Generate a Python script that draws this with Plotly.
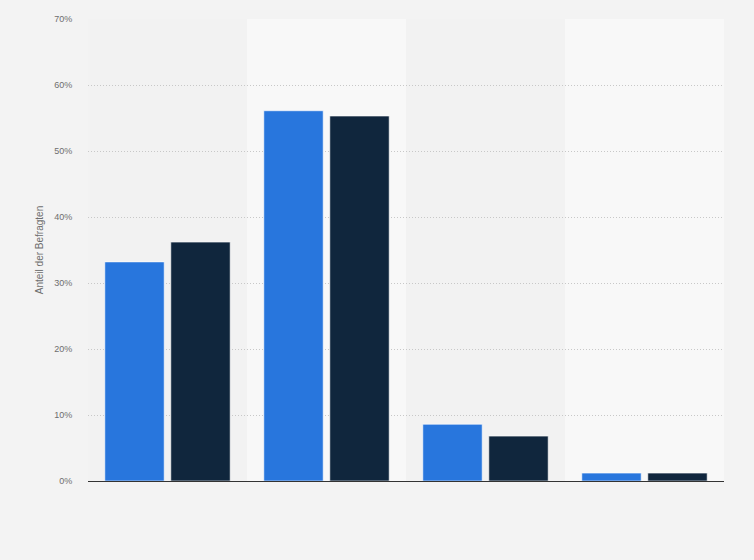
import plotly.graph_objects as go

categories = ["A", "B", "C", "D"]
series1 = [33.2, 56.1, 8.6, 1.2]
series2 = [36.2, 55.3, 6.8, 1.2]
y_ticks = [0, 10, 20, 30, 40, 50, 60, 70]
y_tick_labels = ["0%", "10%", "20%", "30%", "40%", "50%", "60%", "70%"]

fig = go.Figure()
fig.add_trace(go.Bar(x=categories, y=series1, name="Series 1",
                     marker=dict(color="#2876dd", line=dict(color="#ffffff", width=0.6))))
fig.add_trace(go.Bar(x=categories, y=series2, name="Series 2",
                     marker=dict(color="#10263d", line=dict(color="#ffffff", width=0.6))))

shapes = []
for i, c in enumerate(categories):
    if i % 2 == 1:
        shapes.append(dict(type="rect", xref="x", yref="paper", x0=i - 0.5, x1=i + 0.5,
                           y0=0, y1=1, fillcolor="#f8f8f8", line=dict(width=0), layer="below"))

fig.update_layout(
    width=754, height=560,
    margin=dict(l=88, r=30, t=19, b=79),
    paper_bgcolor="#f3f3f3",
    plot_bgcolor="#f2f2f2",
    barmode="group",
    bargap=0.17,
    bargroupgap=0.1,
    showlegend=False,
    shapes=shapes,
    font=dict(family="Liberation Sans, Arial, sans-serif", color="#666666"),
    xaxis=dict(showticklabels=False, showgrid=False, ticks="", range=[-0.5, 3.5]),
    yaxis=dict(range=[0, 70], tickvals=y_ticks, ticktext=y_tick_labels,
               showgrid=True, gridcolor="#c8c8c8", griddash="1px,2px", gridwidth=1,
               zeroline=True, zerolinecolor="#333333", zerolinewidth=1.3,
               tickfont=dict(size=9, color="#6e6e6e"),
               ticks="outside", ticklen=13, tickcolor="rgba(0,0,0,0)",
               title=dict(text="Anteil der Befragten", font=dict(size=10, color="#6e6e6e"), standoff=8)),
)

fig.write_html("out.html", config={"displayModeBar": False},
               post_script="document.body.style.margin='0';document.body.style.background='#f3f3f3';")
